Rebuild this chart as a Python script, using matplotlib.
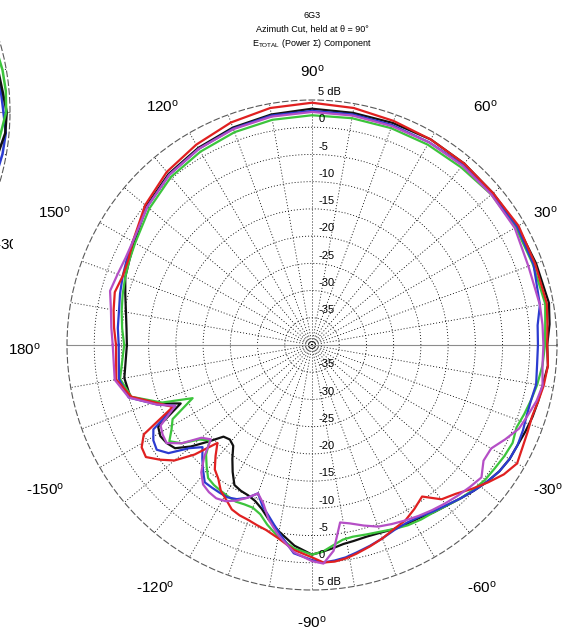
import numpy as np
import matplotlib
matplotlib.use('Agg')
import matplotlib.pyplot as plt
from matplotlib.transforms import Bbox, TransformedBbox

plt.rcParams['font.family'] = ['Liberation Sans', 'DejaVu Sans']
plt.rcParams['mathtext.fontset'] = 'custom'
plt.rcParams['mathtext.rm'] = 'Liberation Sans'
plt.rcParams['mathtext.it'] = 'Liberation Sans:italic'

# azimuth angles (deg) shared by all five traces
angles = [-180, -170, -164, -159, -156, -152, -149, -146, -143, -140,
          -137, -134, -131, -128, -125, -122, -119, -116, -113, -110,
          -107, -104, -100, -95, -90, -87, -84, -81, -78, -74,
          -70, -66, -62, -58, -54, -50, -46, -42, -38, -34,
          -30, -26, -22, -18, -14, -10, -5, 0, 5, 10,
          20, 30, 40, 50, 60, 70, 80, 90, 100, 110,
          120, 130, 140, 150, 155, 160, 165, 170, 175, 180]

red = [-4, -3.5, -5.5, -10, -12, -5, -3.5, -3.2, -5, -7,
       -10.5, -15, -13, -11, -10, -8.4, -7.5, -6.4, -6, -5.8,
       -5.4, -5, -4, -2.2, -1, 0, 0, -0.3, -0.8, -1.5,
       -2.2, -3, -3.5, -4.5, -5.6, -3, -2, -0.5, 1, 2.5,
       3.5, 3, 2.7, 2.5, 2.8, 3.2, 3.5, 3.2, 3.4, 3.8,
       3.6, 3.8, 3.4, 3.5, 3.6, 3.8, 4.2, 4.5, 4.2, 3.5,
       2.5, 1.5, 0, -2, -2.8, -3, -2.5, -3, -3.5, -4]

black = [-6, -5, -5.3, -10, -13.6, -8, -7.5, -7.8, -8.5, -11,
         -14, -16.6, -17, -16.5, -14.5, -12.5, -10.6, -10.2, -10, -9.5,
         -8.5, -7, -5.2, -3, -1.5, -2, -2.5, -3, -3.2, -3.4,
         -3.3, -3, -2.8, -2.6, -2, -1.5, -0.8, 0, 0.8, 1.5,
         1.9, 2, 2.3, 2.6, 2.8, 3, 3.5, 3.2, 3.8, 4.2,
         3.8, 3.6, 3.4, 3.5, 3.6, 3.4, 3.3, 3.4, 3, 2.5,
         1.8, 1, -0.3, -2.3, -3, -3.5, -4.5, -5.3, -5.8, -6]

blue = [-4.5, -4, -5, -9.5, -12.5, -7, -6, -5.6, -7, -10.5,
        -12.5, -11, -9.5, -8, -8, -8, -8, -8.5, -9.5, -11,
        -9, -7.5, -5, -1.6, -0.5, 0, -0.2, -0.5, -1, -1.6,
        -2.2, -2.8, -3, -2.8, -2.2, -1.6, -0.8, 0, 0.8, 1.5,
        1.9, 2, 1.8, 1.5, 1.5, 1.8, 1.5, 1.5, 1.6, 2.5,
        3.3, 3.5, 3.2, 3.2, 3, 3, 3, 3, 2.8, 2.3,
        1.6, 0.8, -0.5, -2, -2.5, -3, -3.5, -4, -4.2, -4.5]

green = [-5.5, -4.2, -5.5, -10.5, -16, -11, -9.9, -8.4, -10, -13,
         -14.3, -12, -10.5, -9, -8.6, -8.4, -8.2, -8, -8.2, -8.2,
         -7.5, -6, -4.2, -2.5, -1.5, -2, -3, -3.8, -4, -3.8,
         -3.5, -3, -2.5, -2.2, -2, -1.5, -0.8, -0.2, 0.3, 0.5,
         0.8, 1, 0.5, 1, 1.5, 2, 2.5, 2.8, 3, 3.5,
         3.2, 3.2, 3, 2.6, 2.5, 2.4, 2.3, 2.2, 2, 1.6,
         1, 0.3, -1, -2.5, -3, -3.5, -4, -4.5, -5, -5.5]

magenta = [-3.4, -3.2, -5, -9.5, -12.5, -8.5, -8, -7.8, -10, -13.5,
           -14.6, -11.5, -9, -7.5, -7, -6.8, -7.2, -8.2, -9.5, -11,
           -9.5, -7, -4.5, -1.8, -0.3, 0.2, -2, -7, -6.5, -5.5,
           -4.5, -4, -3.5, -3, -2.5, -2, -1.5, -1, -0.5, -2,
           -2, -0.5, 1, 1.7, 2.5, 3, 2.5, 2.5, 2.5, 2.5,
           2.3, 3, 3, 3, 3, 2.8, 2.8, 2.8, 2.6, 2.2,
           1.6, 0.8, -0.5, -2, -2.2, -2, -1.6, -2.5, -3, -3.4]

# neighbouring chart, only its right edge shows
nb_angles = [-25, -15, -10, -5, 0, 5, 10, 15, 25]
nb_green = [2, 2.5, 3, 3.5, 4.3, 4.4, 4.3, 4, 3]
nb_black = [2, 3, 3.5, 4.3, 4.4, 3.8, 3.5, 3, 2.5]
nb_blue = [3, 4, 4.3, 4.4, 3.8, 3.5, 3, 2.5, 2]

rticks = [-35, -30, -25, -20, -15, -10, -5, 0, 5]
rtick_labels = ['-35', '-30', '-25', '-20', '-15', '-10', '-5', '0', '5 dB']

W, H = 563, 637
fig = plt.figure(figsize=(W / 100, H / 100), dpi=100)


def box(cx, cy, r):
    return [(cx - r) / W, (H - cy - r) / H, 2 * r / W, 2 * r / H]


def style_polar(a):
    a.set_ylim(-40, 5)
    a.set_thetagrids(np.arange(0, 360, 10), labels=[''] * 36)
    a.set_rgrids(rticks[:-1], labels=[''] * (len(rticks) - 1))
    a.grid(True, color='k', linestyle=(0, (1.2, 2.4)), linewidth=0.6)
    a.spines['polar'].set_linestyle((0, (5, 3)))
    a.spines['polar'].set_color('0.35')
    a.spines['polar'].set_linewidth(0.8)
    a.plot([np.pi, np.pi], [-40, 5], color='0.55', lw=0.8)
    a.plot([0, 0], [-40, 5], color='0.55', lw=0.8)


# neighbour (cut off at the left edge)
axn = fig.add_axes(box(-236, 112, 246), projection='polar')
style_polar(axn)
th_nb = np.deg2rad(nb_angles)
axn.plot(th_nb, nb_blue, color='#2b3bd0', lw=1.8)
axn.plot(th_nb, nb_black, color='#111111', lw=1.8)
axn.plot(th_nb, nb_green, color='#3cc43c', lw=1.8)
t = fig.text(-5 / W, 1 - 245 / H, '-30$^{\\rm o}$', fontsize=11, ha='left', va='center')
t.set_clip_box(TransformedBbox(Bbox([[0, 0], [13 / W, 1]]), fig.transFigure))
t.set_clip_on(True)

# main chart
ax = fig.add_axes(box(312, 345, 245), projection='polar')
style_polar(ax)
th = np.deg2rad(angles)
ax.plot(th, black, color='#111111', lw=1.6)
ax.plot(th, green, color='#3cc43c', lw=1.6)
ax.plot(th, blue, color='#2b3bd0', lw=1.6)
ax.plot(th, red, color='#e02020', lw=1.6)
ax.plot(th, magenta, color='#b54fc6', lw=1.6)

for v, s in zip(rticks, rtick_labels):
    for side in (np.pi / 2, -np.pi / 2):
        ax.annotate(s, xy=(side, v), xytext=(4.5, 2), textcoords='offset points',
                    ha='left', va='bottom', fontsize=8, annotation_clip=False)

# angle labels (pixel centres); the 0 deg label falls outside the picture
ang_labels = ['90', '60', '30', '-30', '-60', '-90', '-120', '-150', '180', '150', '120']
ang_pos = [(312, 72), (485, 107), (545, 213), (548, 490), (482, 588),
           (312, 623), (155, 588), (45, 490), (25, 350), (55, 213), (163, 107)]
for s, (x, y) in zip(ang_labels, ang_pos):
    fig.text(x / W, 1 - y / H, s + '$^{\\rm o}$', fontsize=11, ha='center', va='center')

fig.text(312 / W, 1 - 15 / H, '6G3', fontsize=6.5, ha='center', va='center')
fig.text(312 / W, 1 - 29 / H, 'Azimuth Cut, held at \u03b8 = 90\u00b0', fontsize=6.5,
         ha='center', va='center')
fig.text(312 / W, 1 - 43 / H, 'E$_{\\rm TOTAL}$ (Power \u03a3) Component', fontsize=6.5,
         ha='center', va='center')

fig.savefig('out.png', dpi=100)
